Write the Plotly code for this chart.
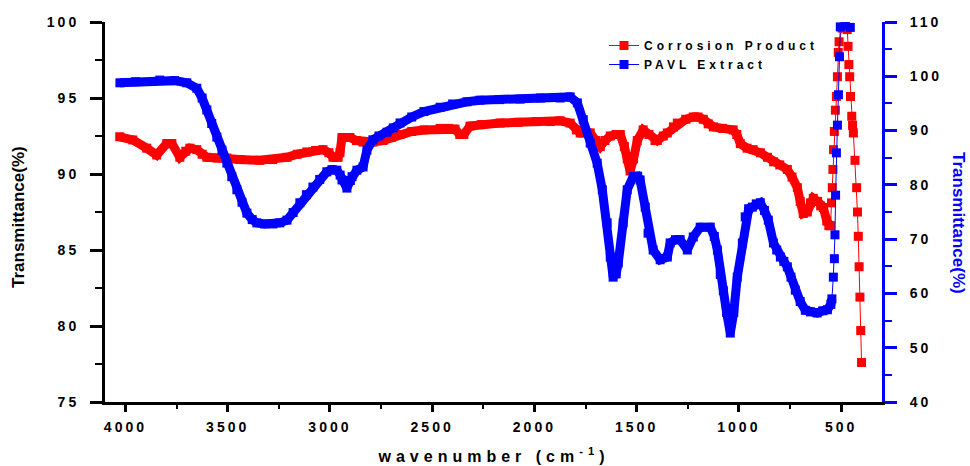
import plotly.graph_objects as go

# ---- data ----
wn_red = [4028, 3964, 3896, 3847, 3798, 3773, 3734, 3705, 3685, 3651, 3625, 3602, 3550, 3504, 3440,
          3343, 3280, 3210, 3160, 3113, 3070, 3034, 3005, 2985, 2960, 2951, 2941, 2902, 2870, 2838,
          2790, 2740, 2700, 2657, 2600, 2540, 2461, 2420, 2388, 2365, 2345, 2315, 2260, 2168, 2080,
          1990, 1923, 1874, 1825, 1795, 1776, 1727, 1700, 1678, 1655, 1629, 1600, 1580, 1560, 1546,
          1532, 1515, 1497, 1468, 1440, 1410, 1399, 1370, 1350, 1320, 1301, 1260, 1223, 1200, 1174,
          1150, 1125, 1080, 1028, 1010, 993, 960, 930, 895, 860, 830, 800, 763, 740, 714,
          700, 685, 665, 650, 636, 615, 600, 587, 570, 560, 552,
          547, 543, 540, 537, 533, 528, 523, 518, 514, 510, 495, 480, 470, 466, 462,
          458, 454, 448, 444, 440, 432, 424, 420, 416, 412, 408, 404, 400]
t_red = [92.45, 92.24, 91.7, 91.25, 92.0, 92.0, 91.1, 91.5, 91.7, 91.6, 91.3, 91.1, 91.05, 91.05, 90.95,
         90.9, 90.95, 91.1, 91.3, 91.45, 91.55, 91.6, 91.4, 91.1, 91.1, 91.4, 92.4, 92.4, 92.2, 92.1,
         92.1, 92.2, 92.4, 92.6, 92.8, 92.9, 93.0, 93.0, 92.95, 92.6, 92.6, 93.15, 93.25, 93.35, 93.4,
         93.45, 93.45, 93.5, 93.35, 92.9, 92.7, 92.7, 92.2, 91.8, 92.2, 92.5, 92.6, 92.6, 91.8, 91.0,
         90.2, 91.0, 92.2, 92.9, 92.6, 92.2, 92.2, 92.5, 92.7, 93.1, 93.35, 93.6, 93.75, 93.75, 93.6,
         93.3, 93.1, 93.0, 92.9, 92.6, 92.0, 91.7, 91.6, 91.4, 91.1, 90.8, 90.6, 90.3, 89.8, 89.1,
         88.2, 87.4, 87.5, 88.1, 88.4, 88.2, 87.9, 87.8, 86.9, 86.6, 86.6,
         88.1, 89.1, 90.3, 91.6, 92.8, 94.2, 95.1, 96.4, 98.0, 98.7, 99.6, 99.8, 99.5, 98.4, 97.2,
         96.4, 95.1, 93.8, 93.2, 92.7, 90.9, 89.1, 87.5, 85.9, 83.9, 81.9, 79.7, 77.6]

wn_blue = [4027, 3950, 3832, 3760, 3700, 3651, 3625, 3602, 3578, 3553, 3528, 3504, 3480, 3455, 3430,
           3406, 3380, 3357, 3320, 3279, 3245, 3210, 3180, 3147, 3115, 3083, 3050, 3015, 2990, 2966,
           2950, 2941, 2917, 2900, 2892, 2868, 2838, 2819, 2790, 2760, 2721, 2690, 2657, 2600, 2540,
           2461, 2400, 2330, 2266, 2170, 2070, 1970, 1874, 1825, 1790, 1761, 1727, 1693, 1668, 1644,
           1629, 1615, 1600, 1590, 1566, 1546, 1517, 1495, 1483, 1458, 1444, 1419, 1385, 1350, 1336,
           1310, 1287, 1252, 1223, 1189, 1140, 1120, 1105, 1091, 1076, 1060, 1042, 1025, 1008, 983,
           969, 952, 934, 915, 895, 875, 856, 831, 815, 797, 780, 763, 745, 724, 700,
           675, 650, 617, 590, 567, 550, 545,
           538, 533, 530, 527, 523, 518, 513, 508, 504, 480, 455]
t_blue = [98.8, 99.0, 99.3, 99.2, 98.8, 97.8, 96.0, 93.8, 91.3, 88.8, 86.4, 84.0, 81.5, 79.1, 76.8,
          74.8, 73.6, 73.0, 72.8, 72.8, 73.0, 73.5, 74.9, 76.7, 78.2, 79.6, 81.0, 82.4, 82.8, 82.7,
          81.8, 80.9, 79.4, 80.8, 81.5, 82.7, 83.3, 86.4, 88.3, 89.0, 89.7, 90.5, 91.4, 92.5, 93.5,
          94.3, 94.9, 95.3, 95.6, 95.7, 95.8, 96.0, 96.0, 96.2, 95.1, 92.0, 87.7, 84.0, 79.1, 73.0,
          66.7, 63.0, 63.6, 65.6, 73.0, 79.1, 81.5, 81.6, 80.9, 75.9, 71.1, 68.0, 66.2, 66.7, 69.3,
          69.9, 69.9, 68.0, 70.4, 72.2, 72.2, 70.5, 68.0, 63.5, 60.5, 56.5, 52.7, 56.5, 63.0, 69.3,
          74.1, 75.6, 75.9, 76.5, 76.7, 75.3, 73.5, 69.3, 68.0, 66.7, 65.9, 64.9, 63.0, 60.6, 58.5,
          56.9, 56.6, 56.4, 56.8, 57.0, 58.0, 59.0,
          63.0, 66.4, 70.8, 78.1, 85.9, 91.0, 96.6, 103.6, 109.1, 109.4, 109.0]

x_ticks = [4000, 3500, 3000, 2500, 2000, 1500, 1000, 500]
yl_ticks = [75, 80, 85, 90, 95, 100]
yr_ticks = [40, 50, 60, 70, 80, 90, 100, 110]

RED = "#FF0000"
BLUE = "#0000FF"
FONT = "Liberation Sans, Arial, sans-serif"

def dense(wn, vals, cut):
    idx = [i for i, w in enumerate(wn) if w >= cut]
    return [wn[i] for i in idx], [vals[i] for i in idx]

fig = go.Figure()
rx, ry = dense(wn_red, t_red, 550)
fig.add_trace(go.Scatter(x=rx, y=ry, mode="lines", line=dict(color=RED, width=9),
                         showlegend=False, hoverinfo="skip", yaxis="y"))
fig.add_trace(go.Scatter(x=wn_red, y=t_red, mode="lines+markers", name="Corrosion Product",
                         line=dict(color=RED, width=1),
                         marker=dict(symbol="square", size=9, color=RED, line=dict(width=0)),
                         yaxis="y"))
bx, by = dense(wn_blue, t_blue, 542)
fig.add_trace(go.Scatter(x=bx, y=by, mode="lines", line=dict(color=BLUE, width=9),
                         showlegend=False, hoverinfo="skip", yaxis="y2"))
fig.add_trace(go.Scatter(x=wn_blue, y=t_blue, mode="lines+markers", name="PAVL Extract",
                         line=dict(color=BLUE, width=1),
                         marker=dict(symbol="square", size=9, color=BLUE, line=dict(width=0)),
                         yaxis="y2"))

tickfont = dict(family=FONT, size=14, color="black", weight="bold")

fig.update_layout(
    width=970, height=466,
    margin=dict(l=105, r=88, t=22, b=64, autoexpand=False),
    paper_bgcolor="white", plot_bgcolor="white",
    showlegend=True,
    legend=dict(x=(604 - 105) / 777, y=1 - (31 - 22) / 380, xanchor="left", yanchor="top",
                bgcolor="rgba(0,0,0,0)", borderwidth=0,
                font=dict(family=FONT, size=12, color="black", weight="bold"),
                tracegroupgap=0),
    xaxis=dict(range=[4100, 300], tickvals=x_ticks, ticks="outside", ticklen=7, tickwidth=3,
               tickcolor="black", showline=True, linewidth=3, linecolor="black",
               showgrid=False, zeroline=False, tickfont=tickfont, ticklabelstandoff=3,
               minor=dict(ticks="outside", dtick=250, ticklen=4, tickwidth=2, tickcolor="black",
                          showgrid=False)),
    xaxis2=dict(range=[4100, 300], overlaying="x", side="top", anchor="y", tickvals=x_ticks,
                ticks="inside", ticklen=6, tickwidth=3, tickcolor="black",
                showline=True, linewidth=3, linecolor="black", showticklabels=False,
                showgrid=False, zeroline=False,
                minor=dict(ticks="inside", dtick=250, ticklen=4, tickwidth=2, tickcolor="black",
                           showgrid=False)),
    yaxis=dict(range=[75, 100], tickvals=yl_ticks, ticks="outside", ticklen=12, tickwidth=3,
               tickcolor="black", showline=True, linewidth=3, linecolor="black",
               showgrid=False, zeroline=False, tickfont=tickfont, ticklabelstandoff=8,
               minor=dict(ticks="outside", dtick=2.5, ticklen=7, tickwidth=2, tickcolor="black",
                          showgrid=False)),
    yaxis2=dict(range=[40, 110], tickvals=yr_ticks, overlaying="y", side="right", anchor="x",
                ticks="outside", ticklen=12, tickwidth=3, tickcolor=BLUE,
                showline=True, linewidth=3, linecolor=BLUE,
                showgrid=False, zeroline=False, tickfont=tickfont, ticklabelstandoff=10,
                minor=dict(ticks="outside", dtick=5, ticklen=7, tickwidth=2, tickcolor=BLUE,
                           showgrid=False)),
    annotations=[
        dict(text="wavenumber (cm<sup>-1</sup>)", xref="paper", yref="paper",
             x=0.5, y=(402 - 455) / 380, xanchor="center", yanchor="middle", showarrow=False,
             font=dict(family=FONT, size=16, color="black", weight="bold")),
        dict(text="Transmittance(%)", xref="paper", yref="paper",
             x=(19 - 105) / 777, y=(402 - 217) / 380, xanchor="center", yanchor="middle",
             textangle=-90, showarrow=False,
             font=dict(family=FONT, size=17, color="black", weight="bold")),
        dict(text="Transmittance(%)", xref="paper", yref="paper",
             x=(959 - 105) / 777, y=(402 - 223) / 380, xanchor="center", yanchor="middle",
             textangle=90, showarrow=False,
             font=dict(family=FONT, size=17, color=BLUE, weight="bold")),
    ],
)

css = ("html,body{margin:0;padding:0;overflow:hidden} "
       ".xtick text{letter-spacing:3px} .ytick text{letter-spacing:3px} "
       ".y2tick text{letter-spacing:3px} .legendtext{letter-spacing:4px} "
       ".legend .scrollbox{clip-path:none !important} .legend{clip-path:none !important} "
       ".annotation[data-index='0'] text{letter-spacing:5px}")
post = ("var s=document.createElement('style');s.textContent=\"" + css +
        "\";document.head.appendChild(s);")
fig.write_html("out.html", post_script=post, config={"displayModeBar": False})
